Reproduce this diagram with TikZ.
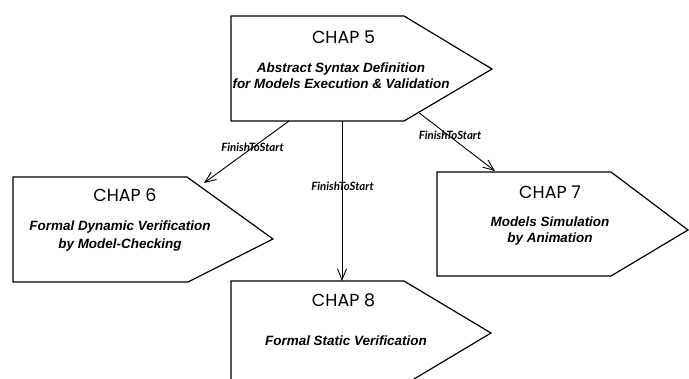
\documentclass[tikz,border=0pt]{standalone}
\usepackage{fontspec}
\setmainfont{Liberation Sans}
\newfontfamily\titlefont{Poppins}
\newfontfamily\labelfont{Lato}
\usetikzlibrary{arrows.meta}
\begin{document}
\begin{tikzpicture}[x=1bp,y=-1bp,
 box/.style={draw=black,line width=1.2bp,line join=miter,fill=white},
 chaptitle/.style={font=\titlefont\fontsize{17.5}{20}\selectfont,inner sep=0pt,anchor=base},
 chapsub/.style={font=\bfseries\itshape\fontsize{13.5}{17}\selectfont,inner sep=0pt,align=center,anchor=base},
 lbl/.style={font=\labelfont\bfseries\itshape\fontsize{11.5}{13}\selectfont,inner sep=0pt},
 link/.style={draw=black,line width=0.9bp,-{Straight Barb[length=11bp,width=9bp]}}]
\useasboundingbox (0,0) rectangle (689,378);
\clip (0,0) rectangle (689,378);
\fill[white] (0,0) rectangle (689,378);
% boxes
\draw[box] (231,16) -- (404,16) -- (492,69) -- (404,121) -- (231,121) -- cycle;
\draw[box] (13,177) -- (187,177) -- (273,239) -- (188,282) -- (13,282) -- cycle;
\draw[box] (437,172) -- (611,172) -- (688,230) -- (611,276) -- (437,276) -- cycle;
\draw[box] (231,281) -- (404,281) -- (491,333) -- (404,385) -- (231,385) -- cycle;
% texts
\node[chaptitle] (t5) at (343.5,43) {CHAP 5};
\node[chapsub] (s5) at (341,72.5) {Abstract Syntax Definition};
\node[chapsub] (s5b) at (341,88.5) {for Models Execution \& Validation};
\node[chaptitle] (t6) at (125,201) {CHAP 6};
\node[chapsub] (s6) at (120,230) {Formal Dynamic Verification};
\node[chapsub] (s6b) at (120,248) {by Model-Checking};
\node[chaptitle] (t7) at (550,198.3) {CHAP 7};
\node[chapsub] (s7) at (550,226) {Models Simulation};
\node[chapsub] (s7b) at (550,242.3) {by Animation};
\node[chaptitle] (t8) at (343.5,306.7) {CHAP 8};
\node[chapsub] (s8) at (346,345) {Formal Static Verification};
% connector ends
\coordinate (c5a) at (289,121);
\coordinate (c6a) at (204,183);
\coordinate (c5b) at (342,121);
\coordinate (c8a) at (342,281);
\coordinate (c5c) at (418,112);
\coordinate (c7a) at (495,171);
\draw[link] (c5a) -- (c6a);
\draw[link] (c5b) -- (c8a);
\draw[link] (c5c) -- (c7a);
\node[lbl] (l1) at (252.5,147) {FinishToStart};
\node[lbl] (l2) at (342.5,186.5) {FinishToStart};
\node[lbl] (l3) at (450,135.5) {FinishToStart};
\end{tikzpicture}
\end{document}
